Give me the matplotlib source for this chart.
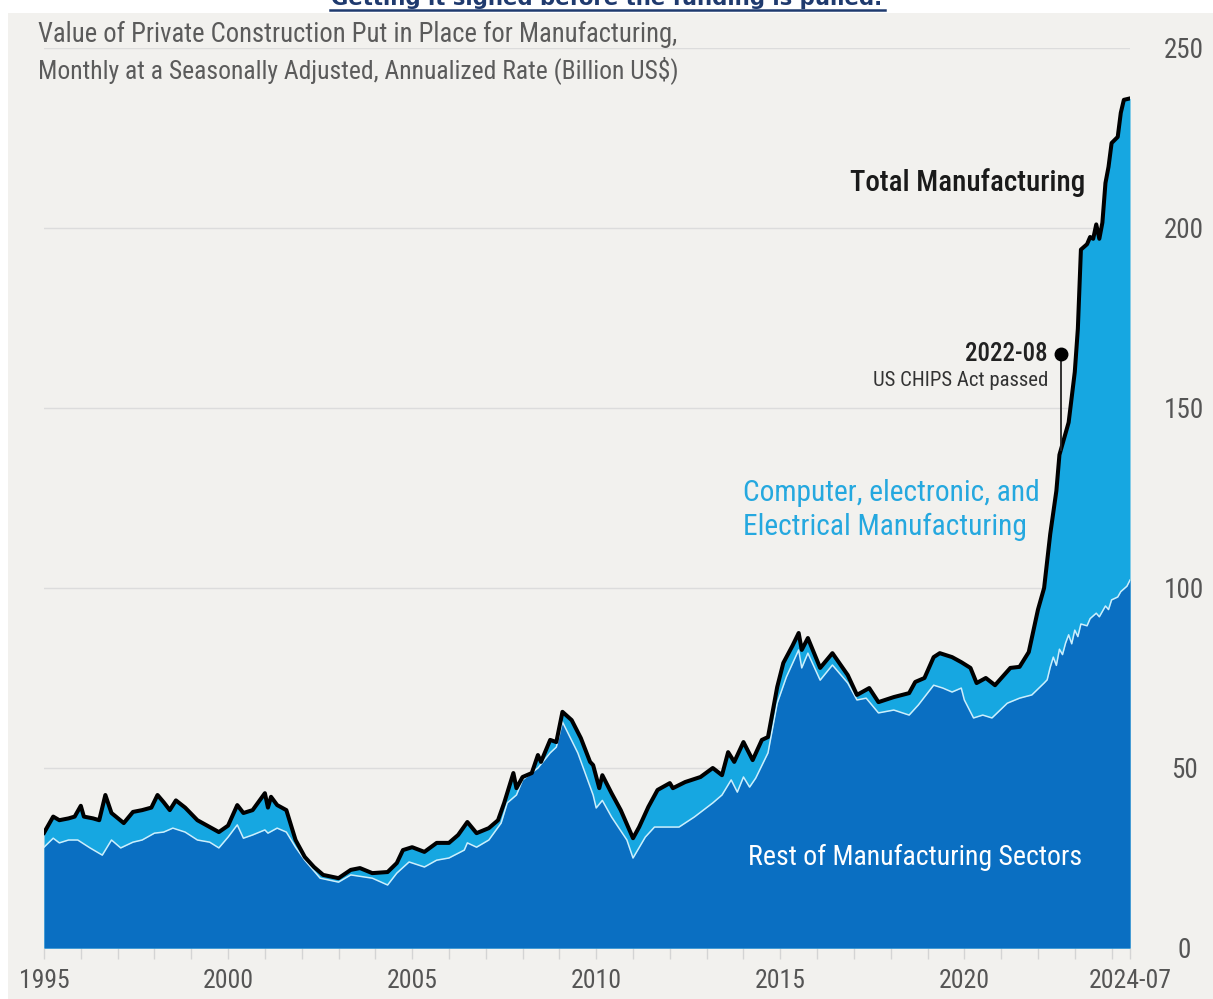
import numpy as np
import pandas as pd
import matplotlib
matplotlib.use("Agg")
import matplotlib.pyplot as plt
from matplotlib import font_manager
from matplotlib.patches import Rectangle
from matplotlib.lines import Line2D

# --- data (Billion US$, SAAR) ---
total_months = [
    "1995-01", "1995-03", "1995-04", "1995-06", "1995-09", "1995-11", "1996-01", "1996-02",
    "1996-05", "1996-07", "1996-09", "1996-11", "1997-03", "1997-06", "1997-09", "1997-12",
    "1998-02", "1998-04", "1998-06", "1998-08", "1998-11", "1999-03", "1999-07", "1999-10",
    "2000-01", "2000-04", "2000-06", "2000-09", "2001-01", "2001-02", "2001-03", "2001-05",
    "2001-08", "2001-11", "2002-02", "2002-05", "2002-08", "2003-01", "2003-05", "2003-08",
    "2003-12", "2004-05", "2004-08", "2004-10", "2005-01", "2005-05", "2005-09", "2006-01",
    "2006-04", "2006-07", "2006-10", "2007-02", "2007-05", "2007-07", "2007-10", "2007-11",
    "2008-01", "2008-04", "2008-06", "2008-07", "2008-10", "2008-12", "2009-02", "2009-05",
    "2009-08", "2009-11", "2009-12", "2010-02", "2010-03", "2010-06", "2010-09", "2011-01",
    "2011-03", "2011-06", "2011-09", "2012-01", "2012-02", "2012-06", "2012-11", "2013-03",
    "2013-06", "2013-08", "2013-10", "2014-01", "2014-04", "2014-07", "2014-09", "2014-12",
    "2015-02", "2015-05", "2015-07", "2015-08", "2015-10", "2016-02", "2016-06", "2016-11",
    "2017-02", "2017-06", "2017-09", "2018-02", "2018-07", "2018-09", "2018-12", "2019-03",
    "2019-05", "2019-09", "2019-12", "2020-03", "2020-05", "2020-08", "2020-11", "2021-04",
    "2021-07", "2021-10", "2022-01", "2022-03", "2022-05", "2022-07", "2022-08", "2022-09",
    "2022-11", "2023-01", "2023-02", "2023-03", "2023-05", "2023-06", "2023-07", "2023-08",
    "2023-09", "2023-10", "2023-11", "2023-12", "2024-01", "2024-03", "2024-04", "2024-05",
    "2024-07",
]
total_values = [
    32.0, 35.0, 36.5, 35.5, 36.0, 36.5, 39.5, 36.5,
    36.0, 35.5, 42.5, 37.5, 34.7, 37.8, 38.3, 39.0,
    42.5, 40.5, 38.3, 41.0, 39.0, 35.5, 33.6, 32.2,
    34.0, 39.7, 37.5, 38.3, 43.0, 39.0, 42.0, 39.7,
    38.3, 30.0, 25.3, 22.5, 20.3, 19.4, 21.7, 22.2,
    20.8, 21.1, 23.6, 27.2, 28.0, 26.7, 29.2, 29.2,
    31.4, 35.0, 31.9, 33.3, 35.5, 40.3, 48.6, 44.4,
    47.5, 48.6, 53.6, 51.7, 57.8, 57.2, 65.6, 63.3,
    58.3, 51.7, 50.8, 44.4, 48.0, 43.0, 38.3, 30.5,
    33.6, 39.2, 43.9, 45.8, 44.4, 46.1, 47.5, 50.0,
    48.0, 54.4, 51.7, 57.2, 52.2, 57.8, 58.6, 72.5,
    79.2, 84.0, 87.5, 82.8, 86.1, 77.8, 81.9, 75.8,
    70.3, 72.2, 68.3, 69.7, 70.8, 73.9, 75.0, 80.8,
    81.9, 80.8, 79.4, 77.8, 73.6, 75.0, 73.0, 77.8,
    78.1, 82.2, 94.0, 100.0, 115.0, 127.0, 137.0, 140.0,
    146.0, 160.0, 172.0, 194.0, 195.5, 197.5, 197.0, 201.0,
    197.0, 201.5, 212.5, 217.0, 223.6, 225.3, 232.0, 235.6,
    236.0,
]

rest_months = [
    "1995-01", "1995-04", "1995-06", "1995-09", "1995-12", "1996-04", "1996-08", "1996-11",
    "1997-02", "1997-06", "1997-09", "1998-01", "1998-04", "1998-07", "1998-11", "1999-03",
    "1999-07", "1999-10", "2000-01", "2000-04", "2000-06", "2000-09", "2001-01", "2001-02",
    "2001-05", "2001-08", "2001-11", "2002-02", "2002-07", "2003-01", "2003-05", "2003-12",
    "2004-05", "2004-08", "2004-12", "2005-05", "2005-09", "2006-01", "2006-06", "2006-07",
    "2006-10", "2007-02", "2007-06", "2007-08", "2007-11", "2008-01", "2008-06", "2008-10",
    "2008-12", "2009-02", "2009-07", "2009-12", "2010-01", "2010-03", "2010-06", "2010-11",
    "2011-01", "2011-05", "2011-08", "2012-01", "2012-04", "2012-09", "2013-03", "2013-06",
    "2013-09", "2013-11", "2014-01", "2014-03", "2014-05", "2014-09", "2014-12", "2015-03",
    "2015-07", "2015-08", "2015-10", "2016-02", "2016-06", "2016-11", "2017-02", "2017-05",
    "2017-09", "2018-02", "2018-07", "2018-10", "2019-03", "2019-06", "2019-09", "2019-12",
    "2020-01", "2020-04", "2020-07", "2020-10", "2021-03", "2021-07", "2021-11", "2022-03",
    "2022-04", "2022-05", "2022-06", "2022-07", "2022-08", "2022-09", "2022-10", "2022-11",
    "2022-12", "2023-01", "2023-02", "2023-03", "2023-05", "2023-06", "2023-08", "2023-09",
    "2023-11", "2023-12", "2024-01", "2024-03", "2024-04", "2024-06", "2024-07",
]
rest_values = [
    28.0, 30.5, 29.2, 30.0, 30.0, 27.8, 25.8, 30.0,
    27.8, 29.4, 30.0, 31.9, 32.2, 33.3, 32.2, 30.0,
    29.4, 27.8, 30.8, 34.2, 30.5, 31.4, 32.8, 31.9,
    33.3, 32.2, 28.0, 24.4, 19.4, 18.3, 20.3, 19.4,
    17.5, 20.8, 23.9, 22.5, 24.4, 25.0, 27.2, 29.2,
    28.0, 30.0, 34.7, 40.3, 42.5, 46.7, 50.0, 54.2,
    55.8, 62.8, 54.2, 42.5, 38.9, 41.0, 36.4, 30.0,
    25.0, 30.8, 33.6, 33.6, 33.6, 36.4, 40.3, 42.5,
    46.7, 43.3, 47.5, 44.7, 47.2, 54.2, 68.0, 75.3,
    82.8, 77.8, 81.9, 74.4, 78.6, 73.6, 68.9, 69.4,
    65.3, 66.1, 64.7, 67.5, 73.0, 72.2, 71.1, 72.2,
    68.9, 63.9, 64.7, 63.9, 68.0, 69.4, 70.3, 73.6,
    74.5, 78.0, 80.8, 78.5, 83.0, 81.5, 84.7, 87.0,
    84.5, 88.3, 86.5, 90.0, 89.5, 91.5, 93.0, 92.0,
    95.0, 94.0, 96.7, 97.5, 99.0, 100.5, 102.2,
]

year_ticks = [1995, 2000, 2005, 2010, 2015, 2020, 2024.5]
year_labels = ["1995", "2000", "2005", "2010", "2015", "2020", "2024-07"]
value_ticks = [0, 50, 100, 150, 200, 250]

event_month = "2022-08"
event_title = "2022-08"
event_note = "US CHIPS Act passed"

DARK_BLUE = "#0a6fc2"
LIGHT_BLUE = "#16a7e1"
LABEL_BLUE = "#25a8df"
BG = "#f2f1ee"


def pick_font():
    # prefer a narrow face, the reference uses a condensed DIN-like font
    wanted = ['Roboto Condensed', 'Liberation Sans Narrow', 'Open Sans Condensed',
              'Noto Sans Condensed', 'DejaVu Sans Condensed']
    names = {f.name for f in font_manager.fontManager.ttflist}
    for w in wanted:
        if w in names:
            return w, 'normal'
    for f in font_manager.fontManager.ttflist:
        if f.name in ('Noto Sans', 'Open Sans', 'DejaVu Sans', 'Roboto') and \
                str(f.stretch) in ('condensed', 'semi-condensed', '75', '87'):
            return f.name, 'condensed'
    return 'DejaVu Sans', 'normal'


FONT, STRETCH = pick_font()
plt.rcParams['font.family'] = [FONT, 'DejaVu Sans']
plt.rcParams['font.stretch'] = STRETCH


def to_year(months):
    d = pd.to_datetime(pd.Series(months), format="%Y-%m")
    return (d.dt.year + (d.dt.month - 1) / 12.0).to_numpy()


tx = to_year(total_months)
ty = np.array(total_values)
rx = to_year(rest_months)
ry = np.array(rest_values)

W, H = 1213, 999
fig = plt.figure(figsize=(W / 100, H / 100), dpi=100, facecolor="white")
fig.patches.append(Rectangle((8 / W, 0), 1, 1 - 13 / H, transform=fig.transFigure,
                             facecolor=BG, edgecolor="none", zorder=-10))

ax = fig.add_axes([44 / W, 1 - 948 / H, (1130 - 44) / W, 900 / H])
ax.set_facecolor("none")

ax.fill_between(tx, 0, ty, color=LIGHT_BLUE, lw=0, zorder=2)
ax.fill_between(rx, 0, ry, color=DARK_BLUE, lw=0, zorder=3)
ax.plot(rx, ry, color="#cdeefc", lw=1.1, zorder=4)
ax.plot(tx, ty, color="black", lw=2.9, solid_joinstyle="round", zorder=5)

ax.set_xlim(tx[0], tx[-1])
ax.set_ylim(0, 250)

for s in ax.spines.values():
    s.set_visible(False)
ax.set_axisbelow(True)
ax.yaxis.grid(True, color="#dcdcdc", lw=1)

ax.yaxis.tick_right()
ax.set_yticks(value_ticks)
ax.set_yticklabels([str(v) for v in value_ticks])
ax.tick_params(axis="y", length=0, pad=39, labelsize=19.5, labelcolor="#555555")
for lab in ax.get_yticklabels():
    lab.set_horizontalalignment("center")

ax.set_xticks(year_ticks)
ax.set_xticklabels(year_labels)
ax.set_xticks(np.arange(1996, 2025), minor=True)
ax.tick_params(axis="x", which="both", direction="out", length=8, width=1,
               color="#d4d4d4", pad=7, labelsize=18.5, labelcolor="#555555")

fitted = []  # (text, target width in px)

t = ax.text(0.9586, 0.851, "Total Manufacturing", transform=ax.transAxes, ha="right",
            va="center", fontsize=20, fontweight="medium", color="#1a1a1a")
fitted.append((t, 235))
t = ax.text(0.6436, 0.5055, "Computer, electronic, and", transform=ax.transAxes,
            ha="left", va="center", fontsize=20, color=LABEL_BLUE)
fitted.append((t, 297))
t = ax.text(0.6436, 0.4678, "Electrical Manufacturing", transform=ax.transAxes,
            ha="left", va="center", fontsize=20, color=LABEL_BLUE)
fitted.append((t, 284))
t = ax.text(0.648, 0.101, "Rest of Manufacturing Sectors", transform=ax.transAxes,
            ha="left", va="center", fontsize=20, color="white")
fitted.append((t, 335))

# CHIPS Act marker
ex = to_year([event_month])[0] + 0.04
ey_dot = 165
ey_line = np.interp(ex, tx, ty)
ax.plot([ex, ex], [ey_dot, ey_line], color="#222222", lw=1.3, zorder=6)
ax.plot([ex], [ey_dot], "o", color="black", ms=9, zorder=7)
t = ax.text(ex - 0.35, ey_dot, event_title, ha="right", va="center", fontsize=16,
            fontweight="medium", color="#222222")
fitted.append((t, 83))
t = ax.text(ex - 0.35, ey_dot - 7.3, event_note, ha="right", va="center", fontsize=15,
            color="#333333")
fitted.append((t, 175))

# header
t = fig.text(38 / W, 1 - 42 / H, "Value of Private Construction Put in Place for Manufacturing,",
             ha="left", va="baseline", fontsize=17, color="#5b5b5b")
fitted.append((t, 638))
t = fig.text(38 / W, 1 - 78 / H, "Monthly at a Seasonally Adjusted, Annualized Rate (Billion US$)",
             ha="left", va="baseline", fontsize=17, color="#5b5b5b")
fitted.append((t, 642))

t = fig.text(607 / W, 1 - 5 / H, "Getting it signed before the funding is pulled.",
             ha="center", va="baseline", fontsize=15, fontweight="bold", color="#1f3a6e",
             family="DejaVu Sans")
fitted.append((t, 555))
fig.lines.append(Line2D([330 / W, 885 / W], [1 - 10 / H, 1 - 10 / H], transform=fig.transFigure,
                        color="#1f3a6e", lw=1.8))

# scale font sizes so text widths match the reference
renderer = fig.canvas.get_renderer()
for t, target in fitted:
    w = t.get_window_extent(renderer).width
    t.set_fontsize(t.get_fontsize() * target / w)

fig.savefig("out.png", dpi=100, facecolor=fig.get_facecolor())
